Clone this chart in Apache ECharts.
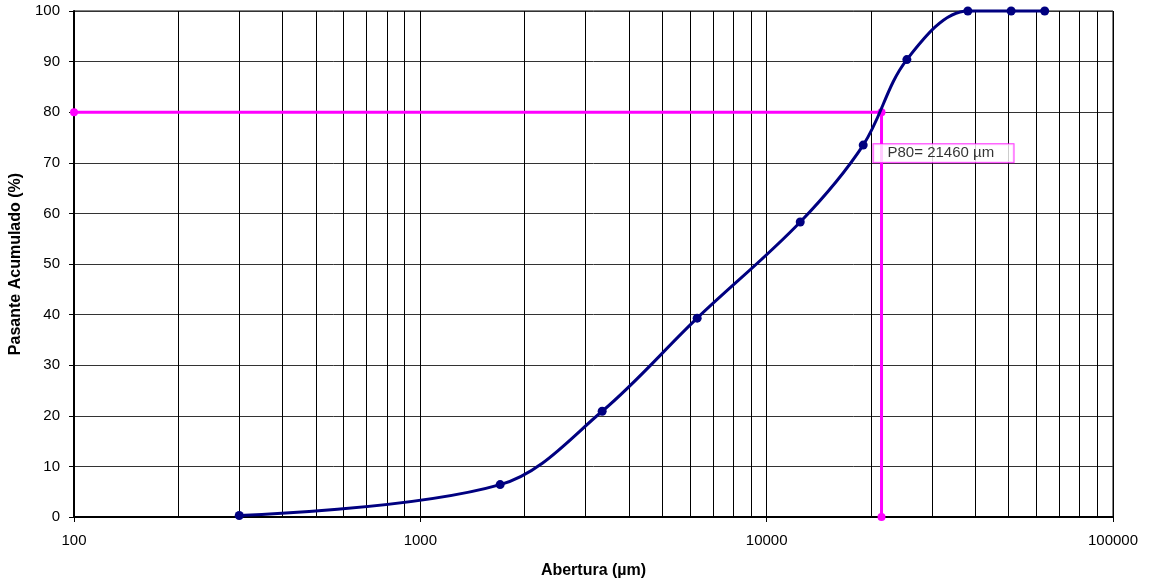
<!DOCTYPE html>
<html><head><meta charset="utf-8">
<script src="https://cdn.jsdelivr.net/npm/echarts@6/dist/echarts.min.js"></script>
<style>html,body{margin:0;padding:0;background:#fff}#c{width:1152px;height:584px}</style>
</head><body><div id="c"></div>
<script>
const sizes = [300, 1700, 3350, 6300, 12500, 19000, 25400, 38100, 50800, 63500];
const passing = [0.3, 6.4, 20.9, 39.3, 58.3, 73.5, 90.4, 100, 100, 100];
const p80Value = 21460;
const p80Level = 80;
const xMin = 100, xMax = 100000;
const decades = [100, 1000, 10000];
const minorMultipliers = [2, 3, 4, 5, 6, 7, 8, 9];
const labelText = 'P80= 21460 \u00b5m';

const minorGrid = [];
decades.forEach(d => minorMultipliers.forEach(m => minorGrid.push({ xAxis: d * m })));

const chart = echarts.init(document.getElementById('c'), null, { renderer: 'canvas' });
const font = 'Liberation Sans, Arial, sans-serif';
chart.setOption({
  animation: false,
  grid: { left: 73, right: 39, top: 11, bottom: 67, show: true, borderColor: '#000', borderWidth: 1, containLabel: false },
  xAxis: {
    type: 'log', logBase: 10, min: xMin, max: xMax,
    name: 'Abertura (\u00b5m)', nameLocation: 'middle', nameGap: 46,
    nameTextStyle: { fontFamily: font, fontSize: 16, fontWeight: 'bold', color: '#000' },
    axisLine: { show: true, lineStyle: { color: '#000', width: 2 } },
    axisTick: { show: true, length: 5, lineStyle: { color: '#000', width: 1 } },
    axisLabel: { fontFamily: font, fontSize: 15, color: '#000', margin: 16, formatter: v => String(Math.round(v)) },
    splitLine: { show: true, lineStyle: { color: '#000', width: 1 } },
    minorTick: { show: false }, minorSplitLine: { show: false }
  },
  yAxis: {
    type: 'value', min: 0, max: 100, interval: 10,
    name: 'Pasante Acumulado (%)', nameLocation: 'middle', nameGap: 50, nameRotate: 90,
    nameTextStyle: { fontFamily: font, fontSize: 16, fontWeight: 'bold', color: '#000' },
    axisLine: { show: true, lineStyle: { color: '#000', width: 2 } },
    axisTick: { show: true, length: 5, lineStyle: { color: '#000', width: 1 } },
    axisLabel: { fontFamily: font, fontSize: 15, color: '#000', margin: 14 },
    splitLine: { show: true, lineStyle: { color: '#333', width: 1 } }
  },
  series: [
    {
      type: 'line', data: [], silent: true, z: 1,
      markLine: {
        silent: true, symbol: 'none', animation: false,
        label: { show: false },
        lineStyle: { color: '#000', width: 1, type: 'solid' },
        emphasis: { disabled: true },
        data: minorGrid
      }
    },
    {
      type: 'line', z: 5, clip: false,
      data: [[xMin, p80Level], [p80Value, p80Level], [p80Value, 0]],
      symbol: 'circle', symbolSize: 8,
      lineStyle: { color: '#FF00FF', width: 3 },
      itemStyle: { color: '#FF00FF' },
      label: { show: false }
    },
    {
      type: 'line', z: 6, clip: false,
      data: sizes.map((s, i) => [s, passing[i]]),
      smooth: 0.35,
      symbol: 'circle', symbolSize: 9,
      lineStyle: { color: '#000080', width: 3 },
      itemStyle: { color: '#000080' }
    },
    {
      type: 'scatter', z: 7, silent: true,
      data: [[p80Value, p80Level]],
      symbolSize: 0,
      label: {
        show: true, formatter: labelText,
        position: [-8, 32], align: 'left', verticalAlign: 'top',
        fontFamily: font, fontSize: 15, lineHeight: 16, color: '#000',
        backgroundColor: '#fff', borderColor: '#FF00FF', borderWidth: 1,
        width: 126, padding: [1, 0, 1, 14]
      }
    }
  ]
});
</script></body></html>
